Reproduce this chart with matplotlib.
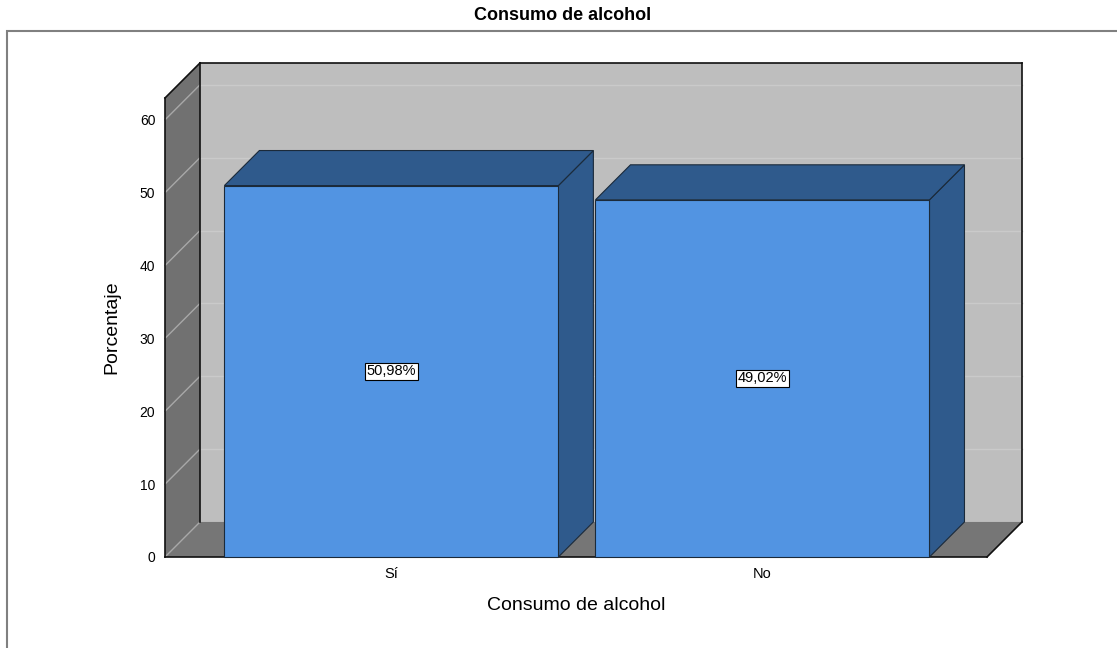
import matplotlib.pyplot as plt
from matplotlib.patches import Polygon, Rectangle

plt.rcParams['font.family'] = ['Liberation Sans', 'DejaVu Sans']

# datos
categorias = ["Sí", "No"]
porcentajes = [50.98, 49.02]
yticks = [0, 10, 20, 30, 40, 50, 60]
ymax = 63

# profundidad del efecto 3D (en unidades de datos)
dx, dy = 0.0943, 4.81
ancho = 0.9
xmin, xmax = -0.61, 1.605

c_frente = "#5294E2"
c_lado = "#2F5A8C"
c_pared = "#BEBEBE"
c_lateral = "#717171"
c_suelo = "#767676"

fig = plt.figure(figsize=(11.17, 6.48), dpi=100)
ax = fig.add_axes([165 / 1117, 91 / 648, 822 / 1117, 459 / 648])
ax.set_xlim(xmin, xmax)
ax.set_ylim(0, ymax)
for s in ax.spines.values():
    s.set_visible(False)

# pared de fondo
ax.add_patch(Rectangle((xmin + dx, dy), xmax - xmin, ymax, fc=c_pared, ec="none",
                       clip_on=False, zorder=1))
for v in yticks[1:]:
    ax.plot([xmin + dx, xmax + dx], [v + dy, v + dy], color="#CACACA", lw=1,
            clip_on=False, zorder=2)
# pared izquierda
ax.add_patch(Polygon([(xmin, 0), (xmin, ymax), (xmin + dx, ymax + dy), (xmin + dx, dy)],
                     closed=True, fc=c_lateral, ec="none", clip_on=False, zorder=3))
for v in yticks:
    ax.plot([xmin, xmin + dx], [v, v + dy], color="#A8A8A8", lw=1,
            clip_on=False, zorder=4)
# suelo
ax.add_patch(Polygon([(xmin, 0), (xmax, 0), (xmax + dx, dy), (xmin + dx, dy)],
                     closed=True, fc=c_suelo, ec="none", clip_on=False, zorder=3))

# bordes del marco
bordes = [
    ([xmin, xmin], [0, ymax]),
    ([xmin, xmin + dx], [ymax, ymax + dy]),
    ([xmin + dx, xmax + dx], [ymax + dy, ymax + dy]),
    ([xmax + dx, xmax + dx], [ymax + dy, dy]),
    ([xmax + dx, xmax], [dy, 0]),
    ([xmax, xmin], [0, 0]),
    ([xmin + dx, xmin + dx], [dy, ymax + dy]),
]
for bx, by in bordes:
    ax.plot(bx, by, color="#111111", lw=1.2, clip_on=False, zorder=5,
            solid_capstyle="projecting")

# barras
for i, h in enumerate(porcentajes):
    x0, x1 = i - ancho / 2, i + ancho / 2
    ax.add_patch(Polygon([(x1, 0), (x1, h), (x1 + dx, h + dy), (x1 + dx, dy)], closed=True,
                         fc=c_lado, ec="#1B2A3A", lw=0.8, clip_on=False, zorder=6))
    ax.add_patch(Polygon([(x0, h), (x1, h), (x1 + dx, h + dy), (x0 + dx, h + dy)], closed=True,
                         fc=c_lado, ec="#1B2A3A", lw=0.8, clip_on=False, zorder=6))
    ax.add_patch(Rectangle((x0, 0), ancho, h, fc=c_frente, ec="#1B2A3A", lw=0.8,
                           clip_on=False, zorder=7))
    ax.text(i, h / 2, f"{h:.2f}%".replace(".", ","), ha="center", va="center",
            fontsize=10.5, zorder=8,
            bbox=dict(boxstyle="square,pad=0.12", fc="white", ec="black", lw=0.8))

ax.set_yticks(yticks)
ax.set_xticks(range(len(categorias)))
ax.set_xticklabels(categorias)
ax.tick_params(axis="y", length=0, pad=7, labelsize=10)
ax.tick_params(axis="x", length=0, pad=7, labelsize=10.5)
ax.set_xlabel("Consumo de alcohol", fontsize=14, labelpad=12)
ax.set_ylabel("Porcentaje", fontsize=14, labelpad=14)

fig.text(563 / 1117, 1 - 15 / 648, "Consumo de alcohol", ha="center", va="center",
         fontsize=13, fontweight="bold")

# recuadro exterior
fig.patches.append(Rectangle((7 / 1117, -0.1), 1.2, (648 - 31) / 648 + 0.1,
                             transform=fig.transFigure, fill=False, ec="#808080", lw=1.5))

fig.savefig("out.png", dpi=100)
